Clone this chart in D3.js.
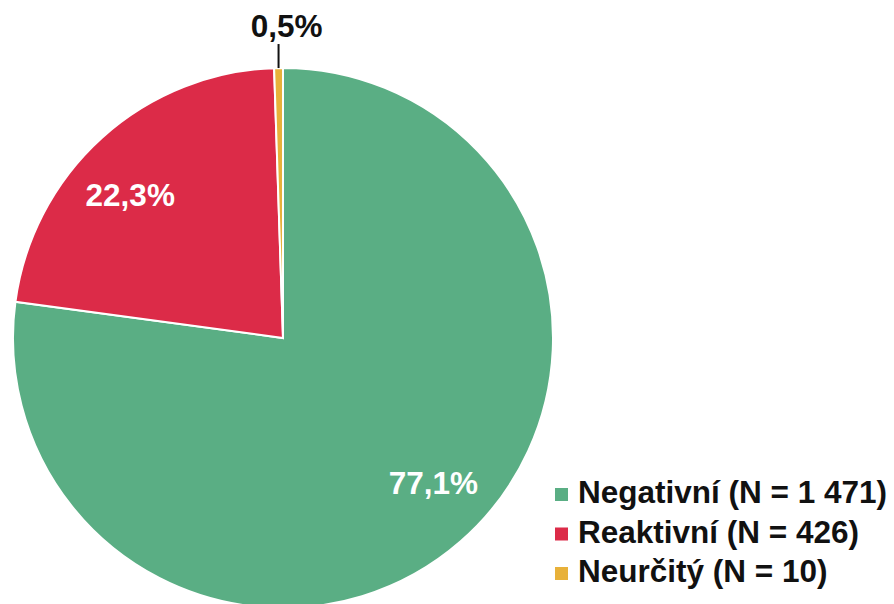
<!DOCTYPE html>
<html>
<head>
<meta charset="utf-8">
<script src="https://cdn.jsdelivr.net/npm/d3@7"></script>
<style>
  body { margin: 0; background: #fff; }
  svg { display: block; font-family: "Liberation Sans", Arial, sans-serif; font-weight: bold; }
</style>
</head>
<body>
<svg id="chart" width="894" height="604"></svg>
<script>
// data
var categories = ['Negativní', 'Reaktivní', 'Neurčitý'];
var counts = [1471, 426, 10];
var pctLabels = ['77,1%', '22,3%', '0,5%'];
var colors = ['#5aae84', '#dc2b48', '#e8b13a'];

var svg = d3.select('#chart');

var cx = 283, cy = 338, radius = 270;
var fontSize = '31.5px';

var pie = d3.pie().sort(null).value(function(d) { return d; });
var arcs = pie(counts);

var arc = d3.arc().innerRadius(0).outerRadius(radius);

var pieG = svg.append('g')
    .attr('transform', 'translate(' + cx + ',' + cy + ')');

pieG.selectAll('path.slice')
    .data(arcs)
  .enter().append('path')
    .attr('class', 'slice')
    .attr('d', arc)
    .attr('fill', function(d, i) { return colors[i]; })
    .attr('stroke', '#fff')
    .attr('stroke-width', 2);

// labels inside big slices (slightly rotated back from mid angle, like the original)
var labelR = 209;
pieG.selectAll('text.inside')
    .data(arcs.slice(0, 2))
  .enter().append('text')
    .attr('class', 'inside')
    .attr('transform', function(d) {
      var a = (d.startAngle + d.endAngle) / 2 - 0.085;
      return 'translate(' + (Math.sin(a) * labelR) + ',' + (-Math.cos(a) * labelR) + ')';
    })
    .attr('text-anchor', 'middle')
    .attr('dy', '0.35em')
    .attr('fill', '#fff')
    .style('font-size', fontSize)
    .text(function(d, i) { return pctLabels[i]; });

// small slice label outside with leader line
var small = arcs[2];
var mid = (small.startAngle + small.endAngle) / 2;
var px = Math.sin(mid) * radius, py = -Math.cos(mid) * radius;
pieG.append('line')
    .attr('x1', px).attr('y1', py)
    .attr('x2', px).attr('y2', py - 24)
    .attr('stroke', '#111')
    .attr('stroke-width', 2);
pieG.append('text')
    .attr('x', px + 8)
    .attr('y', py - 31)
    .attr('text-anchor', 'middle')
    .attr('fill', '#111')
    .style('font-size', fontSize)
    .text(pctLabels[2]);

// legend
var legend = svg.append('g').attr('transform', 'translate(555,0)');
var rows = legend.selectAll('g.row')
    .data(categories)
  .enter().append('g')
    .attr('class', 'row')
    .attr('transform', function(d, i) { return 'translate(0,' + (503 + i * 39.5) + ')'; });

rows.append('rect')
    .attr('x', 0).attr('y', -15)
    .attr('width', 13).attr('height', 13)
    .attr('fill', function(d, i) { return colors[i]; });

rows.append('text')
    .attr('x', 23)
    .attr('y', 0)
    .attr('fill', '#111')
    .style('font-size', fontSize)
    .text(function(d, i) {
      var n = d3.format(',')(counts[i]).replace(/,/g, ' ');
      return d + ' (N = ' + n + ')';
    });
</script>
</body>
</html>
